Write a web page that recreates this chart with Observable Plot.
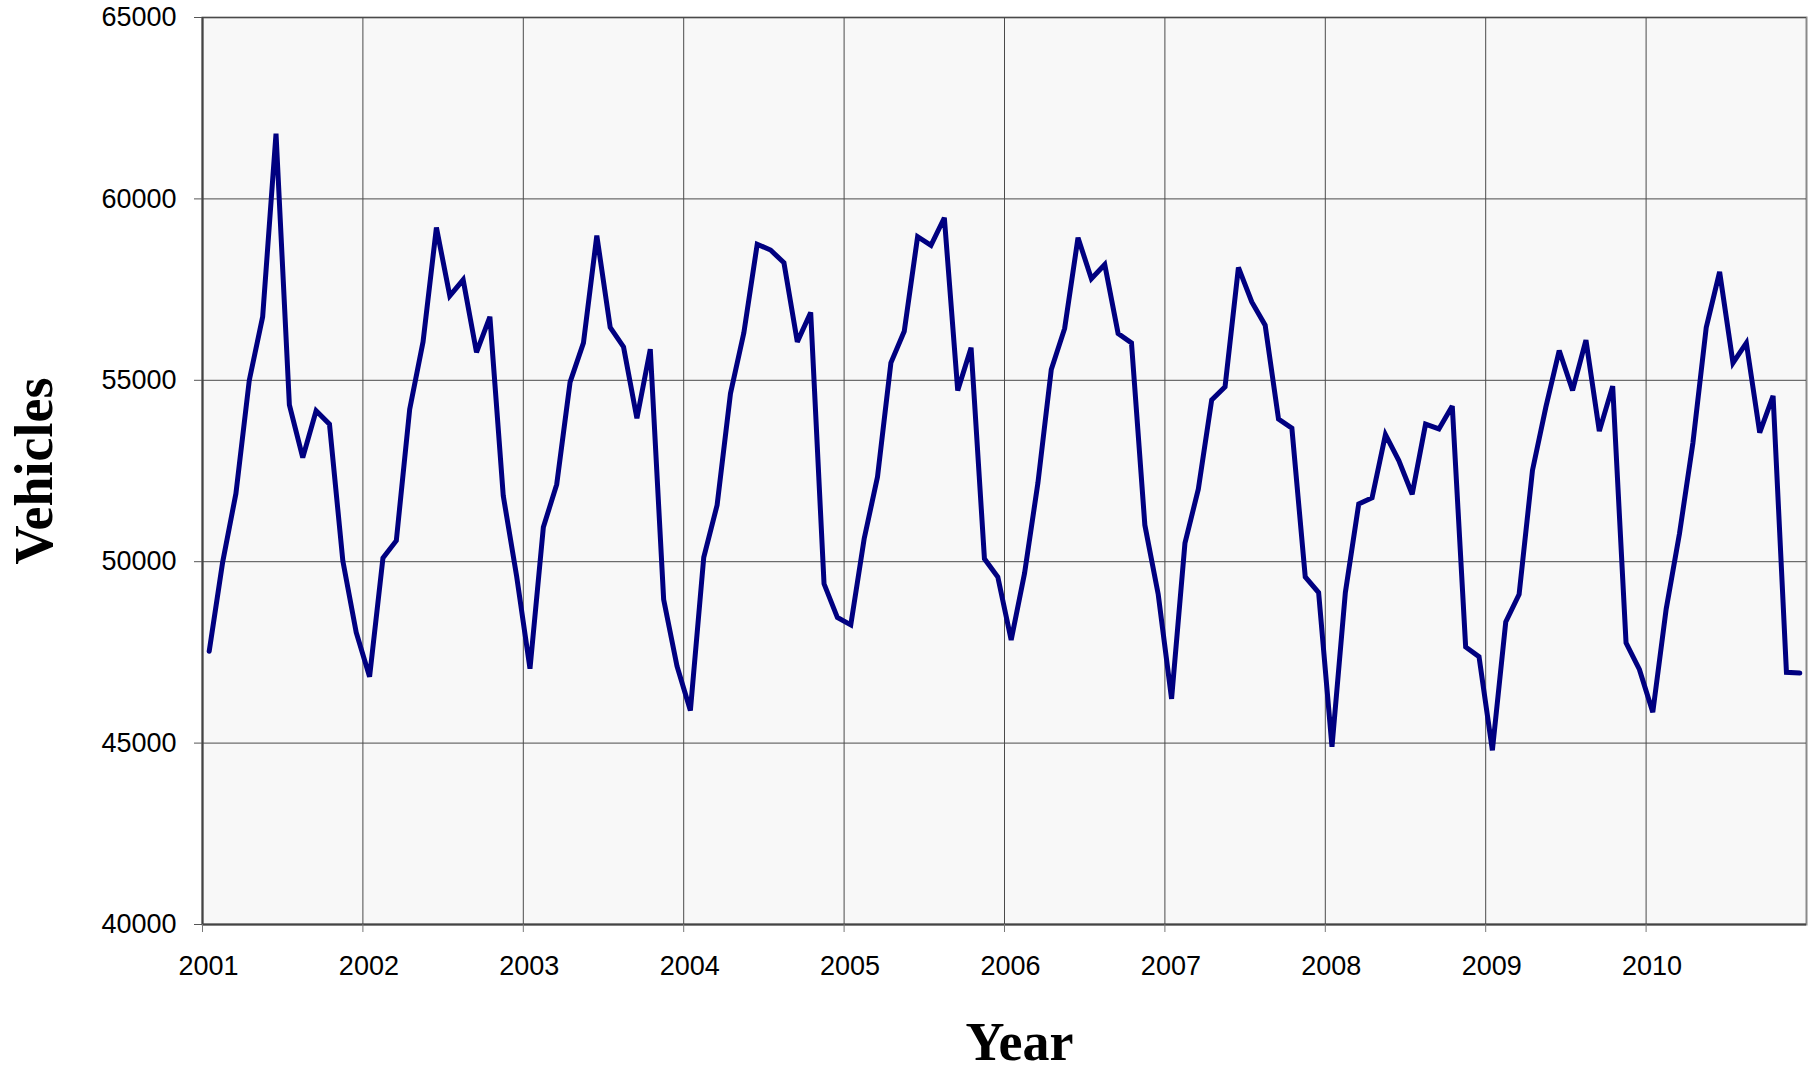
<!DOCTYPE html>
<html><head><meta charset="utf-8">
<script src="https://cdn.jsdelivr.net/npm/d3@7"></script>
<script src="https://cdn.jsdelivr.net/npm/@observablehq/plot@0.6"></script>
<style>body{margin:0;background:#fff;}</style>
</head><body><div id="chart"></div>
<script>
const years = [2001, 2002, 2003, 2004, 2005, 2006, 2007, 2008, 2009, 2010];
const yTicks = [40000, 45000, 50000, 55000, 60000, 65000];
const v2001 = [47530, 49970, 51880, 55000, 56750, 61800, 54320, 52870, 54160, 53790, 50020, 48050];
const v2002 = [46830, 50100, 50580, 54200, 56060, 59210, 57330, 57770, 55770, 56750, 51820, 49600];
const v2003 = [47050, 50950, 52130, 54950, 56030, 58990, 56460, 55920, 53950, 55860, 48960, 47120];
const v2004 = [45900, 50120, 51560, 54640, 56310, 58750, 58590, 58240, 56060, 56870, 49390, 48460];
const v2005 = [48260, 50630, 52340, 55480, 56350, 58960, 58720, 59480, 54720, 55900, 50080, 49580];
const v2006 = [47840, 49680, 52170, 55300, 56430, 58930, 57800, 58190, 56290, 56030, 51010, 49100];
const v2007 = [46220, 50510, 52000, 54460, 54820, 58110, 57160, 56520, 53930, 53680, 49580, 49150];
const v2008 = [44900, 49150, 51590, 51760, 53500, 52790, 51860, 53790, 53660, 54290, 47650, 47380];
const v2009 = [44800, 48340, 49100, 52520, 54260, 55820, 54720, 56110, 53600, 54840, 47760, 47030];
const v2010 = [45850, 48690, 50780, 53270, 56460, 57990, 55480, 56030, 53560, 54570, 46950, 46930];
const series = [v2001, v2002, v2003, v2004, v2005, v2006, v2007, v2008, v2009, v2010];

const data = years.flatMap((yr, i) => series[i].map((v, m) => ({t: yr + (m + 0.5) / 12, v})));

const font = "'Liberation Sans', Arial, sans-serif";
const serif = "'Liberation Serif', 'Times New Roman', serif";

const chart = Plot.plot({
  width: 1808,
  height: 1072,
  marginLeft: 202,
  marginRight: 2,
  marginTop: 17,
  marginBottom: 148,
  style: {fontFamily: font, fontSize: "27px", color: "#000", background: "#fff"},
  x: {domain: [2001, 2011], label: null},
  y: {domain: [40000, 65000], label: null},
  marks: [
    Plot.frame({fill: "#f8f8f8", stroke: "#8a8a8a", strokeWidth: 2}),
    Plot.gridY(yTicks, {stroke: "#4a4a4a", strokeOpacity: 1, strokeWidth: 1}),
    Plot.gridX(years, {stroke: "#4a4a4a", strokeOpacity: 1, strokeWidth: 1}),
    Plot.ruleX([2001], {stroke: "#444", strokeWidth: 2}),
    Plot.ruleY([40000], {stroke: "#444", strokeWidth: 2}),
    Plot.axisY(yTicks, {label: null, tickSize: 8, tickPadding: 18, stroke: "#555", tickFormat: d => String(d), fontSize: 27, fill: "#000"}),
    Plot.axisX(years, {label: null, tickSize: 8, tickFormat: () => "", stroke: "#777"}),
    Plot.axisX(years, {label: null, tickSize: 0, tickPadding: 31, dx: 6, tickFormat: d => String(d), fontSize: 27, fill: "#000"}),
    Plot.line(data, {x: "t", y: "v", stroke: "#000080", strokeWidth: 5, strokeLinejoin: "miter", strokeMiterlimit: 3}),
    Plot.text(["Vehicles"], {frameAnchor: "left", rotate: -90, dx: -168, fontFamily: serif, fontWeight: "bold", fontSize: 54, fill: "#000", lineAnchor: "middle", textAnchor: "middle"}),
    Plot.text(["Year"], {frameAnchor: "bottom", dy: 118, dx: 15, fontFamily: serif, fontWeight: "bold", fontSize: 54, fill: "#000", lineAnchor: "middle", textAnchor: "middle"})
  ]
});
document.getElementById("chart").appendChild(chart);
</script>
</body></html>
